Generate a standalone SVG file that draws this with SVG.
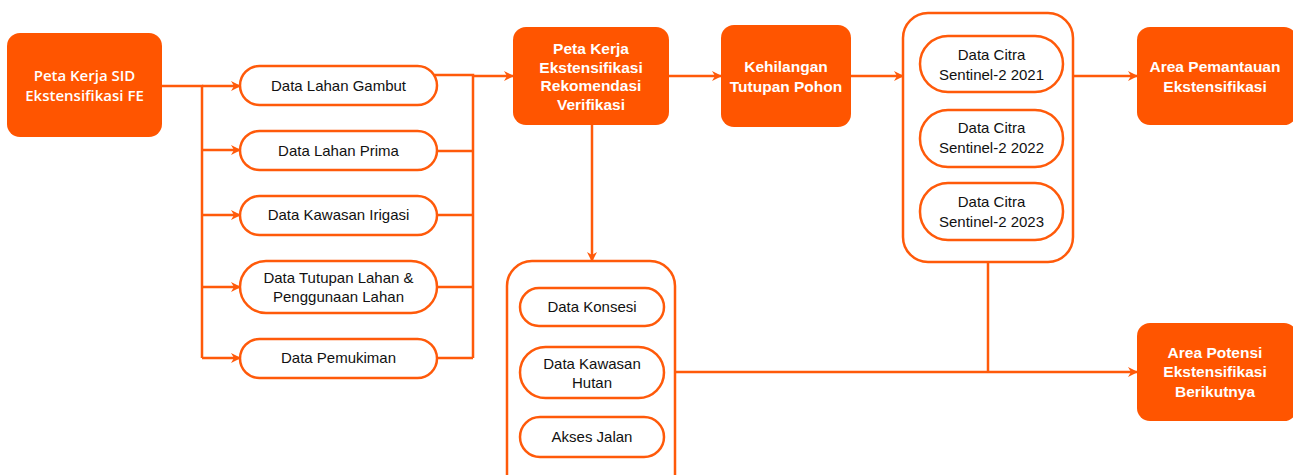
<svg xmlns="http://www.w3.org/2000/svg" width="1293" height="475" viewBox="0 0 1293 475">
<defs>
<marker id="ah" viewBox="0 0 10 10" refX="9" refY="5" markerWidth="10" markerHeight="10" markerUnits="userSpaceOnUse" orient="auto">
<path d="M0,0 L10,5 L0,10 L3,5 Z" fill="#FF5A0A"/>
</marker>
<style>
.solid{fill:#FF5500;}
.pill{fill:#fff;stroke:#FF5A0A;stroke-width:2.5;}
.cont{fill:#fff;stroke:#FF5A0A;stroke-width:2.5;}
.ln{fill:none;stroke:#FF5A0A;stroke-width:2.5;}
.arr{fill:none;stroke:#FF5A0A;stroke-width:2.5;marker-end:url(#ah);}
.pt{font-family:"Liberation Sans",Arial,sans-serif;font-size:15px;fill:#111;text-anchor:middle;}
.bt{font-family:"Liberation Sans",Arial,sans-serif;font-size:15.5px;font-weight:bold;fill:#fff;text-anchor:middle;}
.ot{font-family:"Open Sans",sans-serif;font-size:15px;font-weight:600;fill:#fff;text-anchor:middle;}
</style>
</defs>
<g id="connectors">
<path class="ln" d="M162,86 H202 V358"/>
<path class="arr" d="M202,86 H240"/>
<path class="arr" d="M202,150 H240"/>
<path class="arr" d="M202,215 H240"/>
<path class="arr" d="M202,287 H240"/>
<path class="arr" d="M202,358 H240"/>
<path class="ln" d="M435,75 H473 V358"/>
<path class="ln" d="M437,151 H473"/>
<path class="ln" d="M437,215 H473"/>
<path class="ln" d="M437,287 H473"/>
<path class="ln" d="M437,358 H473"/>
<path class="arr" d="M473,76 H513"/>
<path class="arr" d="M669,76 H721"/>
<path class="arr" d="M851,76 H903"/>
<path class="arr" d="M1073,76 H1137"/>
<path class="arr" d="M592,125 V261"/>
<path class="ln" d="M988,262 V372"/>
<path class="arr" d="M675,372 H1137"/>
</g>
<g id="n-peta-sid">
<rect class="solid" x="7" y="33" width="155" height="104" rx="13"/>
<text class="ot" x="84.5" y="80.5">Peta Kerja SID</text>
<text class="ot" x="84.5" y="101">Ekstensifikasi FE</text>
</g>
<g id="n-gambut">
<rect class="pill" x="240" y="66" width="197" height="39" rx="19.5"/>
<text class="pt" x="338.5" y="91">Data Lahan Gambut</text>
</g>
<g id="n-prima">
<rect class="pill" x="240" y="131" width="197" height="39" rx="19.5"/>
<text class="pt" x="338.5" y="156">Data Lahan Prima</text>
</g>
<g id="n-irigasi">
<rect class="pill" x="240" y="196" width="197" height="39" rx="19.5"/>
<text class="pt" x="338.5" y="220">Data Kawasan Irigasi</text>
</g>
<g id="n-tutupan">
<rect class="pill" x="240" y="261" width="197" height="52" rx="26"/>
<text class="pt" x="338.5" y="283">Data Tutupan Lahan &amp;</text>
<text class="pt" x="338.5" y="302">Penggunaan Lahan</text>
</g>
<g id="n-pemukiman">
<rect class="pill" x="240" y="339" width="197" height="39" rx="19.5"/>
<text class="pt" x="338.5" y="363">Data Pemukiman</text>
</g>
<g id="n-peta-ekst">
<rect class="solid" x="513" y="27" width="156" height="98" rx="13"/>
<text class="bt" x="591" y="54">Peta Kerja</text>
<text class="bt" x="591" y="72.5">Ekstensifikasi</text>
<text class="bt" x="591" y="91">Rekomendasi</text>
<text class="bt" x="591" y="109.5">Verifikasi</text>
</g>
<g id="n-kehilangan">
<rect class="solid" x="721" y="25" width="130" height="102" rx="13"/>
<text class="bt" x="786" y="72">Kehilangan</text>
<text class="bt" x="786" y="92">Tutupan Pohon</text>
</g>
<g id="n-sentinel-group">
<rect class="cont" x="903" y="13" width="170" height="249" rx="25"/>
</g>
<g id="n-s2021">
<rect class="pill" x="920" y="36" width="143" height="56" rx="28"/>
<text class="pt" x="991.5" y="60">Data Citra</text>
<text class="pt" x="991.5" y="80">Sentinel-2 2021</text>
</g>
<g id="n-s2022">
<rect class="pill" x="920" y="110" width="143" height="57" rx="28"/>
<text class="pt" x="991.5" y="133">Data Citra</text>
<text class="pt" x="991.5" y="153">Sentinel-2 2022</text>
</g>
<g id="n-s2023">
<rect class="pill" x="920" y="183" width="143" height="57" rx="28"/>
<text class="pt" x="991.5" y="207">Data Citra</text>
<text class="pt" x="991.5" y="227">Sentinel-2 2023</text>
</g>
<g id="n-pemantauan">
<rect class="solid" x="1137" y="27" width="160" height="98" rx="13"/>
<text class="bt" x="1215" y="72">Area Pemantauan</text>
<text class="bt" x="1215" y="92">Ekstensifikasi</text>
</g>
<g id="n-konsesi-group">
<rect class="cont" x="507" y="261" width="168" height="240" rx="25"/>
</g>
<g id="n-konsesi">
<rect class="pill" x="520" y="288" width="144" height="38" rx="19"/>
<text class="pt" x="592" y="312">Data Konsesi</text>
</g>
<g id="n-hutan">
<rect class="pill" x="520" y="347" width="144" height="51" rx="25.5"/>
<text class="pt" x="592" y="369">Data Kawasan</text>
<text class="pt" x="592" y="388">Hutan</text>
</g>
<g id="n-jalan">
<rect class="pill" x="520" y="417" width="144" height="40" rx="20"/>
<text class="pt" x="592" y="442">Akses Jalan</text>
</g>
<g id="n-potensi">
<rect class="solid" x="1137" y="323" width="160" height="98" rx="13"/>
<text class="bt" x="1215" y="358">Area Potensi</text>
<text class="bt" x="1215" y="377">Ekstensifikasi</text>
<text class="bt" x="1215" y="397">Berikutnya</text>
</g>
</svg>
